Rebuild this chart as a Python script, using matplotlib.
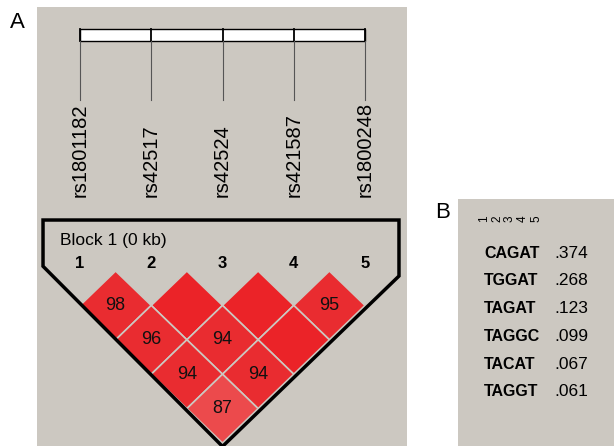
import matplotlib
matplotlib.use("Agg")
import matplotlib.pyplot as plt
from matplotlib.patches import Polygon, Rectangle

plt.rcParams['font.family'] = ['Liberation Sans', 'DejaVu Sans']

# LD plot data
snps = ['rs1801182', 'rs42517', 'rs42524', 'rs421587', 'rs1800248']
# D' (x100) for marker pairs; None = 100 (no number shown)
ld_pairs = [(1, 2), (2, 3), (3, 4), (4, 5), (1, 3), (2, 4), (3, 5), (1, 4), (2, 5), (1, 5)]
ld_values = [98, None, None, 95, 96, 94, None, 94, 94, 87]

# haplotypes
haplotypes = ['CAGAT', 'TGGAT', 'TAGAT', 'TAGGC', 'TACAT', 'TAGGT']
hap_freqs = ['.374', '.268', '.123', '.099', '.067', '.061']

bg = '#ccc8c1'

def cell_color(v):
    if v is None:
        return '#eb2328'
    if v >= 94:
        return '#e92c30'
    return '#ec4a4c'

fig = plt.figure(figsize=(6.14, 4.46), dpi=100)
W, H = 614, 446

# ---- panel A
axA = fig.add_axes([37 / W, 0, 370 / W, 439 / H])
axA.set_facecolor(bg)
axA.set_xlim(1 - 43 / 71.25, 5 + 42 / 71.25)
axA.set_ylim(-175 / 68.8, 264 / 68.8)
axA.set_xticks([])
axA.set_yticks([])
for s in axA.spines.values():
    s.set_visible(False)

n = len(snps)
xs = list(range(1, n + 1))
# map bar
axA.add_patch(Rectangle((1, 3.343), n - 1, 0.174, facecolor='white', edgecolor='black', lw=1))
for x, name in zip(xs, snps):
    axA.plot([x, x], [3.343, 3.517], color='black', lw=1.3)
    axA.plot([x, x], [2.485, 3.343], color='#555555', lw=0.8)
    axA.text(x, 1.076, name, rotation=90, ha='center', va='bottom', fontsize=14.5)

# LD diamonds
for (i, j), v in zip(ld_pairs, ld_values):
    cx = (i + j) / 2
    cy = -(j - i) / 2
    d = [(cx, cy + 0.5), (cx + 0.5, cy), (cx, cy - 0.5), (cx - 0.5, cy)]
    axA.add_patch(Polygon(d, closed=True, facecolor=cell_color(v), edgecolor=bg, lw=1.2))
    if v is not None:
        axA.text(cx, cy, str(v), fontsize=13, ha='center', va='center', color='#111111')

# block outline
xl, xr, top = 0.481, 5.477, 0.741
off = 0.05
tri = [(xl, top), (xr, top), (xr, xr - (n + 0.5 + off)), (3, -2.5 - off),
       (xl, -xl + 0.5 + off)]
axA.add_patch(Polygon(tri, closed=True, fill=False, edgecolor='black', lw=2.5,
                      joinstyle='miter', zorder=4, clip_on=False))
axA.text(0.72, 0.45, 'Block 1 (0 kb)', fontsize=12.5, ha='left', va='center')
for x in xs:
    axA.text(x, 0.116, str(x), fontsize=12, fontweight='bold', ha='center', va='center')

fig.text(17 / W, 1 - 22 / H, 'A', fontsize=16, ha='center', va='center')

# ---- panel B
axB = fig.add_axes([458 / W, 0, 156 / W, 247 / H])
axB.set_facecolor(bg)
axB.set_xticks([])
axB.set_yticks([])
for s in axB.spines.values():
    s.set_visible(False)
axB.set_xlim(0, 156)
axB.set_ylim(247, 0)

row0 = 54
step = 27.8
for k in range(n):
    axB.text(26 + 13 * k, 20, str(k + 1), rotation=90, fontsize=8.5, ha='center', va='center')
for r, (h, f) in enumerate(zip(haplotypes, hap_freqs)):
    y = row0 + step * r
    axB.text(26, y, h, fontsize=11.5, fontweight='bold', ha='left', va='center')
    axB.text(96, y, f, fontsize=12.5, ha='left', va='center')

fig.text(443 / W, 1 - 213 / H, 'B', fontsize=16, ha='center', va='center')

fig.savefig('out.png', dpi=100, facecolor='white')
